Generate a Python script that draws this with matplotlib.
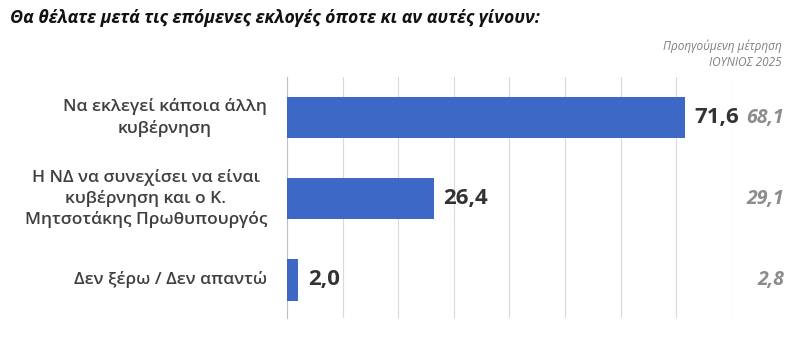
import matplotlib.pyplot as plt

plt.rcParams['font.family'] = ['Open Sans', 'DejaVu Sans']

title = "Θα θέλατε μετά τις επόμενες εκλογές όποτε κι αν αυτές γίνουν:"
categories = [
    "Να εκλεγεί κάποια άλλη\nκυβέρνηση",
    "Η ΝΔ να συνεχίσει να είναι\nκυβέρνηση και ο Κ.\nΜητσοτάκης Πρωθυπουργός",
    "Δεν ξέρω / Δεν απαντώ",
]
current = [71.6, 26.4, 2.0]
previous = [68.1, 29.1, 2.8]
prev_header = "Προηγούμενη μέτρηση\nΙΟΥΝΙΟΣ 2025"


def fmt(v):
    return f"{v:.1f}".replace(".", ",")


fig = plt.figure(figsize=(8.04, 3.37), dpi=100)
ax = fig.add_axes([287 / 804, 1 - 318 / 337, (731.7 - 287) / 804, (318 - 77) / 337])

ypos = list(range(len(categories)))
ax.barh(ypos, current, height=0.51, color='#3d68c6', zorder=3)
ax.set_xlim(0, 80)
ax.set_ylim(2.47, -0.5)
ax.set_xticks(range(0, 81, 10))
ax.set_xticklabels([])
ax.set_yticks([])
ax.tick_params(length=0)
ax.grid(axis='x', color='#d9d9d9', linewidth=0.8, zorder=0)
for s in ['top', 'right', 'bottom']:
    ax.spines[s].set_visible(False)
ax.spines['left'].set_color('#bfbfbf')
ax.spines['left'].set_linewidth(0.8)

for y, lab, cur, prev in zip(ypos, categories, current, previous):
    ax.text(-0.045, y, lab, transform=ax.get_yaxis_transform(), ha='right', va='center',
            ma='center', fontsize=12.5, fontweight='semibold', color='#404040', linespacing=1.32)
    ax.annotate(fmt(cur), (cur, y), xytext=(7, 0), textcoords='offset points',
                ha='left', va='center', fontsize=16, fontweight='bold', color='#333333')
    ax.text(1.1176, y, fmt(prev), transform=ax.get_yaxis_transform(), ha='right', va='center',
            fontsize=14, fontweight='bold', style='italic', color='#8c8c8c')

fig.text(782 / 804, 1 - 54 / 337, prev_header, ha='right', va='center', fontsize=8.5,
         style='italic', color='#7f7f7f', linespacing=1.3)
fig.text(10 / 804, 1 - 18 / 337, title, ha='left', va='center', fontsize=12.7,
         fontweight='bold', style='italic', color='#111111')

fig.savefig('out.png', dpi=100)
